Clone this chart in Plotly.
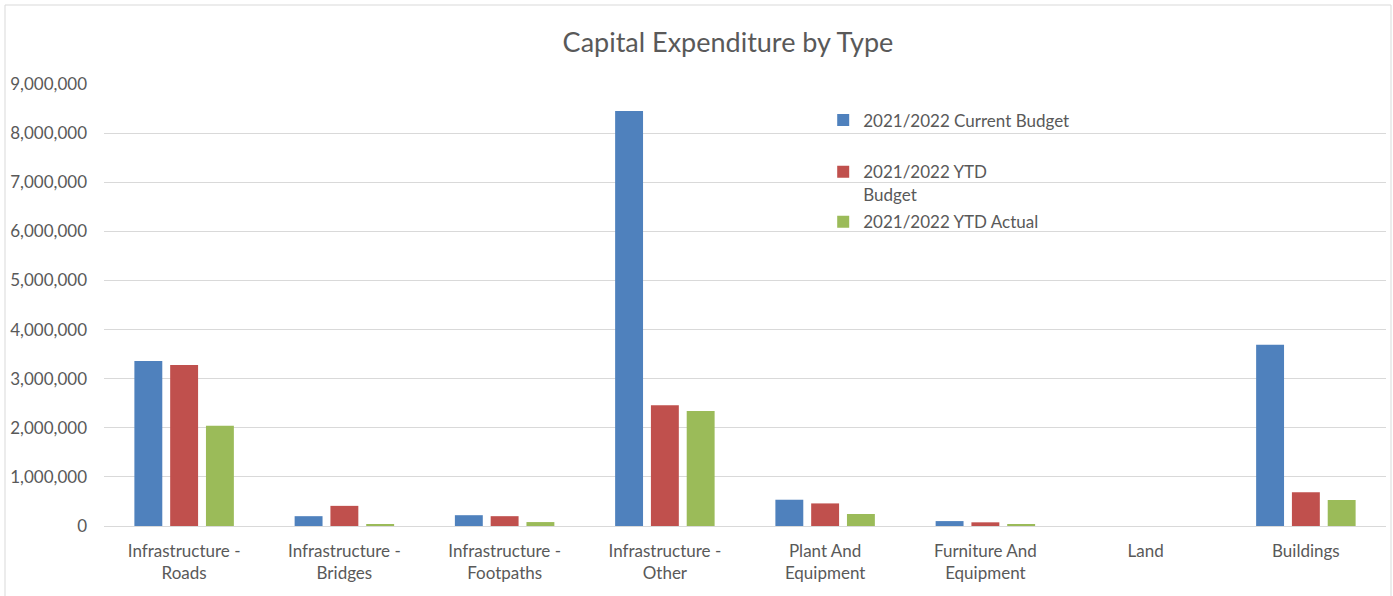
import plotly.graph_objects as go

categories = ["Infrastructure -<br>Roads", "Infrastructure -<br>Bridges", "Infrastructure -<br>Footpaths",
              "Infrastructure -<br>Other", "Plant And<br>Equipment", "Furniture And<br>Equipment",
              "Land", "Buildings"]
current_budget = [3360000, 200000, 220000, 8450000, 535000, 100000, 0, 3690000]
ytd_budget = [3280000, 410000, 200000, 2460000, 460000, 75000, 0, 686000]
ytd_actual = [2040000, 40000, 80000, 2340000, 245000, 25000, 0, 530000]
series_names = ["2021/2022 Current Budget", "2021/2022 YTD<br>Budget", "2021/2022 YTD Actual"]
colors = ["#4F81BD", "#C0504D", "#9BBB59"]
legend_ids = ["legend", "legend2", "legend3"]
legend_tops = [0.958, 0.841, 0.728]

font_family = "Lato, 'Open Sans', sans-serif"

fig = go.Figure()
for name, vals, col, lg in zip(series_names, [current_budget, ytd_budget, ytd_actual], colors, legend_ids):
    fig.add_trace(go.Bar(x=categories, y=vals, name=name, marker_color=col,
                         marker_line_width=0, legend=lg, showlegend=True))

legend_common = dict(x=0.561, xanchor="left", yanchor="top", bgcolor="rgba(0,0,0,0)",
                     font=dict(size=17, color="#595959", family=font_family), itemwidth=30, valign="top")

fig.update_layout(
    width=1393, height=596,
    showlegend=True,
    margin=dict(l=104, r=7, t=84, b=70),
    paper_bgcolor="white", plot_bgcolor="white",
    font=dict(family=font_family, size=17, color="#595959"),
    title=dict(text="Capital Expenditure by Type", x=0.5226, xanchor="center", y=0.928, yanchor="middle",
               font=dict(size=27, color="#595959", family=font_family)),
    barmode="group", bargap=0.33, bargroupgap=0.22,
    legend=dict(y=legend_tops[0], **legend_common),
    legend2=dict(y=legend_tops[1], **legend_common),
    legend3=dict(y=legend_tops[2], **legend_common),
    shapes=[dict(type="rect", xref="paper", yref="paper",
                 x0=(5 - 104) / 1282, x1=(1391 - 104) / 1282,
                 y0=(526 - 600) / 442, y1=(526 - 5) / 442,
                 line=dict(color="#d9d9d9", width=1), fillcolor="rgba(0,0,0,0)", layer="below")],
)
fig.update_yaxes(range=[0, 9000000], tickvals=list(range(0, 9000001, 1000000)),
                 tickformat=",d", gridcolor="#d9d9d9", gridwidth=1, zeroline=True,
                 zerolinecolor="#d9d9d9", zerolinewidth=1, showline=False, ticks="",
                 ticklabelstandoff=16, tickfont=dict(size=17, color="#595959"))
fig.update_xaxes(showline=False, ticks="", tickfont=dict(size=17, color="#595959"), ticklabelstandoff=13)

fig.write_html("out.html")
